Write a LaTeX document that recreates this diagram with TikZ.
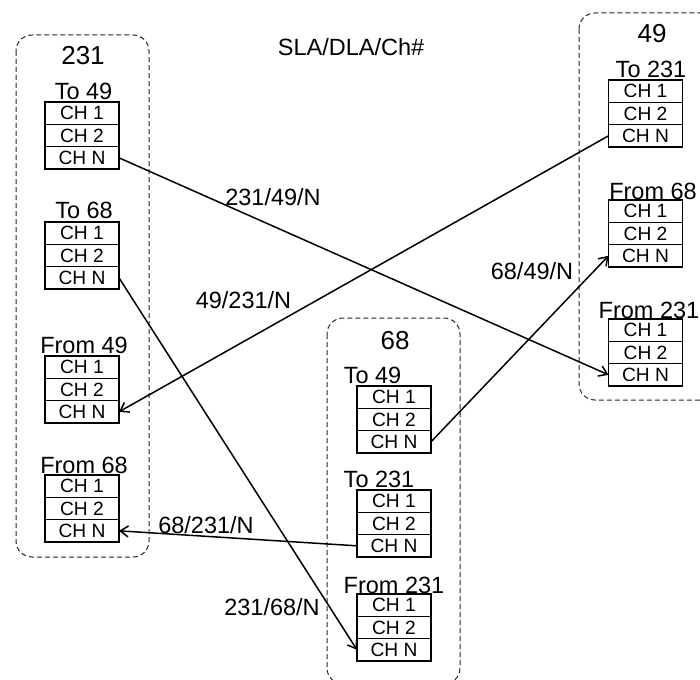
\documentclass[tikz,border=0pt]{standalone}
\usepackage{fontspec}
\setmainfont{Liberation Sans}
\usetikzlibrary{arrows.meta,positioning}

\begin{document}
\begin{tikzpicture}[x=1pt,y=-1pt,
 group/.style={draw=black!85,dash pattern=on 5pt off 3pt,line width=1pt,rounded corners=16pt},
 chbox/.style={draw,line width=1.2pt,minimum width=74pt,minimum height=22.33pt,
               inner sep=0pt,outer sep=0pt,font=\fontsize{19.2}{22}\selectfont},
 lbl/.style={anchor=base,inner sep=0pt,font=\fontsize{23.5}{27}\selectfont},
 gtitle/.style={anchor=base,inner sep=0pt,font=\fontsize{26}{30}\selectfont},
 arrow/.style={-{Straight Barb[length=8pt,width=11pt]},line width=1.5pt}]
\clip (0,0) rectangle (700,679);
% groups
\draw[group] (16,35) rectangle (149,557);
\draw[group] (327,318) rectangle (460,684);
\draw[group] (579,13) rectangle (716,400);
\node[gtitle] (g231) at (83,65) {231};
\node[gtitle] (g68) at (395,349) {68};
\node[gtitle] (g49) at (652,43) {49};
\node[lbl] (title) at (351,56) {SLA/DLA/Ch\#};
% channel stacks
\foreach \nm/\x/\y/\lx/\ly/\txt in {a/82/102/83.5/100/To 49,b/82/222/84/218/To 68,
  c/82/356/84/353/From 49,d/82/475/84/473/From 68,
  m1/394/386/372.5/383/To 49,m2/394/490/379/487/To 231,m3/394/594/394/593/From 231,
  r1/645.5/80/651/78/To 231,r2/645.5/200/653/199/From 68,r3/645.5/319/649/318/From 231}{
  \node[lbl] (\nm-lab) at (\lx,\ly) {\txt};
  \node[chbox,anchor=north] (\nm-1) at (\x,\y) {CH 1};
  \node[chbox,below=0pt of \nm-1] (\nm-2) {CH 2};
  \node[chbox,below=0pt of \nm-2] (\nm-n) {CH N};
}
% links
\draw[arrow] (a-n.east) -- (r3-n.west);
\draw[arrow] (r1-n.west) -- (c-n.east);
\draw[arrow] (b-n.east) -- (m3-n.west);
\draw[arrow] (m2-n.west) -- (d-n.east);
\draw[arrow] (m1-n.east) -- (r2-n.west);
\node[lbl] (l1) at (273,205) {231/49/N};
\node[lbl] (l2) at (243.5,308) {49/231/N};
\node[lbl] (l3) at (532,279) {68/49/N};
\node[lbl] (l4) at (272,615) {231/68/N};
\node[lbl] (l5) at (206,533) {68/231/N};
\end{tikzpicture}
\end{document}
